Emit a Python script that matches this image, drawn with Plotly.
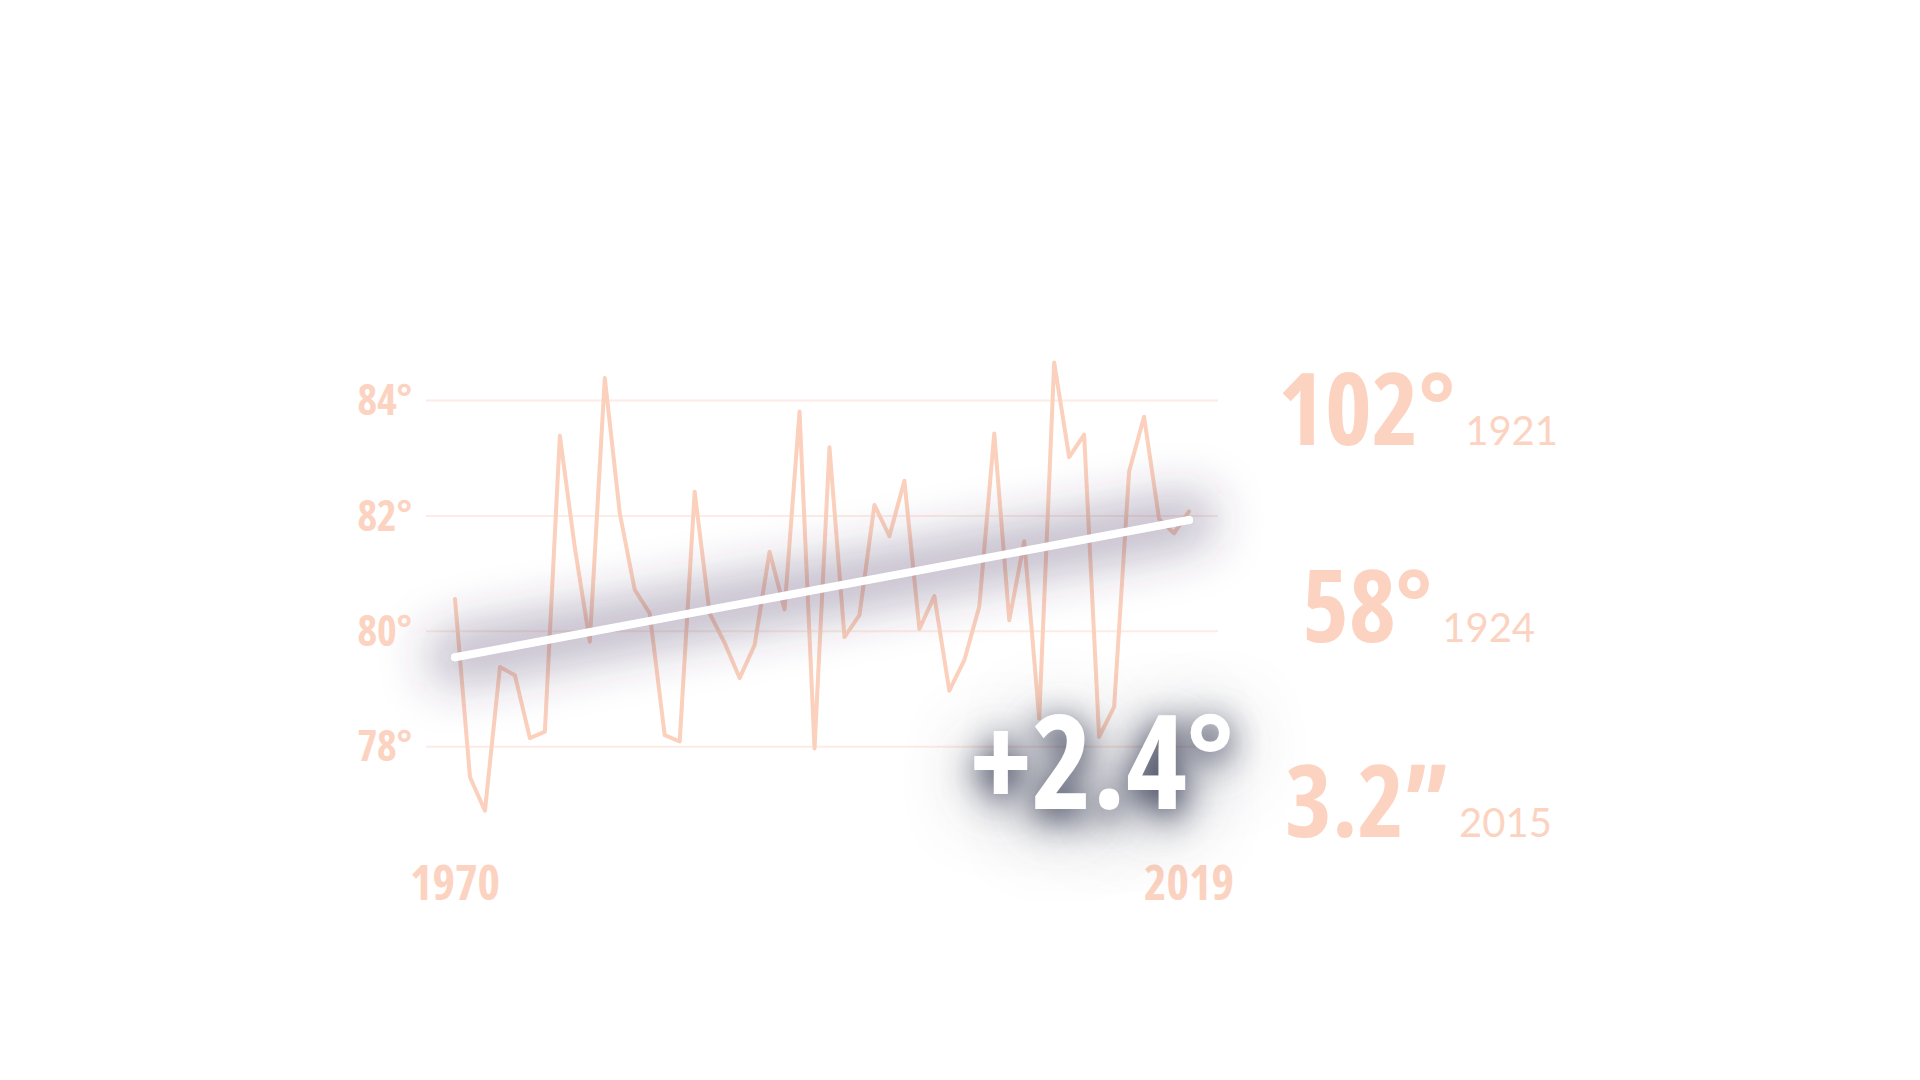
import plotly.graph_objects as go

# ---------------- data ----------------
years = list(range(1970, 2020))
temps = [80.56, 77.47, 76.89, 79.38, 79.24, 78.15, 78.26, 83.39, 81.45, 79.82,
         84.39, 82.05, 80.72, 80.31, 78.20, 78.09, 82.42, 80.31, 79.80, 79.19,
         79.76, 81.38, 80.38, 83.81, 77.97, 83.19, 79.90, 80.28, 82.19, 81.65,
         82.61, 80.04, 80.61, 78.97, 79.50, 80.43, 83.43, 80.19, 81.56, 78.49,
         84.66, 83.02, 83.41, 78.17, 78.69, 82.77, 83.72, 81.95, 81.70, 82.08]

trend_years = [1970, 2019]
trend_vals = [79.55, 81.93]
change_label = "+2.4°"

y_tickvals = [78, 80, 82, 84]
y_ticktext = ["78°", "80°", "82°", "84°"]
x_tickvals = [1970, 2019]
x_ticktext = ["1970", "2019"]

record_values = ["102°", "58°", "3.2”"]
record_years = ["1921", "1924", "2015"]

# ---------------- style ----------------
W, H = 1920, 1080
SALMON = "rgb(251,211,192)"
LINE_C = "rgb(251,208,188)"
GRID_C = "rgb(253,236,230)"
COND = "Open Sans, Roboto Condensed, sans-serif"
SANS = "Lato, Open Sans, sans-serif"


def cond(t):
    return f"<span style='font-stretch:condensed;font-weight:700'>{t}</span>"


fig = go.Figure()

# trace 0: temperature series
fig.add_trace(go.Scatter(
    x=years, y=temps, mode="lines",
    line=dict(color=LINE_C, width=4),
    hoverinfo="skip", showlegend=False))

# trace 1: glow under the trend line (blurred in the page)
fig.add_trace(go.Scatter(
    x=trend_years, y=trend_vals, mode="lines",
    line=dict(color="rgba(70,55,95,0.34)", width=56),
    hoverinfo="skip", showlegend=False))

# trace 2: trend line
fig.add_trace(go.Scatter(
    x=trend_years, y=trend_vals, mode="lines+markers",
    line=dict(color="white", width=8),
    marker=dict(color="white", size=8),
    hoverinfo="skip", showlegend=False))

annotations = []
annotations.append(dict(
    xref="paper", yref="paper", x=1102 / W, y=1 - 758 / H,
    xanchor="center", yanchor="middle", showarrow=False,
    text=cond(change_label),
    font=dict(family=COND, size=130, color="white", weight="bold",
              shadow="0px 8px 32px rgba(35,40,65,0.95), 0px 12px 70px rgba(35,40,65,0.7)")))

mid_y = [406, 603, 798]
for val, yr, my in zip(record_values, record_years, mid_y):
    annotations.append(dict(
        xref="paper", yref="paper", x=1418 / W, y=1 - my / H,
        xanchor="center", yanchor="middle", showarrow=False,
        text=(f"<span style='font-family:{COND};font-size:100px;font-weight:700;font-stretch:condensed'>{val}</span>"
              f"<span style='font-family:{SANS};font-size:40px;font-weight:400'> {yr}</span>"),
        font=dict(family=COND, size=100, color=SALMON)))

fig.update_layout(
    width=W, height=H,
    margin=dict(l=0, r=0, t=0, b=0),
    paper_bgcolor="white", plot_bgcolor="rgba(0,0,0,0)",
    showlegend=False,
    annotations=annotations,
    shapes=[dict(type="line", xref="paper", yref="y", x0=426 / W, x1=1218 / W,
                 y0=v, y1=v, layer="below", line=dict(color=GRID_C, width=2))
            for v in y_tickvals],
    xaxis=dict(
        domain=[300 / W, 1340 / W], range=[1959.653, 2029.08],
        tickvals=x_tickvals, ticktext=[cond(t) for t in x_ticktext], automargin=False,
        showgrid=False, zeroline=False, showline=False,
        ticks="", ticklabelstandoff=21,
        tickfont=dict(family=COND, size=48, color=SALMON, weight="bold")),
    yaxis=dict(
        domain=[1 - 830 / H, 1 - 340 / H], range=[76.556, 85.05],
        anchor="free", position=426 / W, automargin=False,
        tickvals=y_tickvals, ticktext=[cond(t) for t in y_ticktext],
        showgrid=False, zeroline=False, showline=False,
        ticks="", ticklabelstandoff=14,
        tickfont=dict(family=COND, size=42, color=SALMON, weight="bold")),
)

post = """
document.body.style.margin='0';
document.body.style.overflow='hidden';
function styleLines(){
  var gd = document.getElementById('{plot_id}');
  if(!gd) return;
  gd.querySelectorAll('path.js-line').forEach(function(p){p.style.strokeLinecap='round';p.style.strokeLinejoin='round';});
  var svg = gd.querySelector('svg.main-svg');
  var ns = 'http://www.w3.org/2000/svg';
  if(!document.getElementById('trendglow')){
    var defs = svg.querySelector('defs');
    if(!defs){defs = document.createElementNS(ns,'defs'); svg.insertBefore(defs, svg.firstChild);}
    var f = document.createElementNS(ns,'filter');
    f.setAttribute('id','trendglow');
    f.setAttribute('filterUnits','userSpaceOnUse');
    f.setAttribute('x','0'); f.setAttribute('y','0');
    f.setAttribute('width','1920'); f.setAttribute('height','1080');
    var b = document.createElementNS(ns,'feGaussianBlur');
    b.setAttribute('stdDeviation','24');
    f.appendChild(b); defs.appendChild(f);
  }
  var tr = gd.querySelectorAll('.scatterlayer .trace');
  if(tr.length > 1){
    var p = tr[1].querySelector('path.js-line');
    if(p) p.setAttribute('filter','url(#trendglow)');
  }
}
styleLines(); setTimeout(styleLines, 0); setTimeout(styleLines, 200);
"""

fig.write_html("out.html", post_script=post, config={"displayModeBar": False})
